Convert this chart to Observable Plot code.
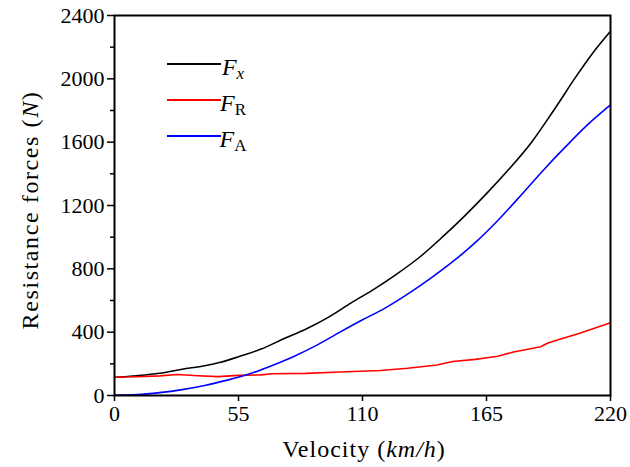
<!DOCTYPE html>
<html><head><meta charset="utf-8">
<script src="https://cdn.jsdelivr.net/npm/d3@7"></script>
<script src="https://cdn.jsdelivr.net/npm/@observablehq/plot@0.6"></script>
<style>
body{margin:0;background:#fff;}
#wrap{width:630px;height:467px;}
#wrap svg, #wrap svg text, #wrap svg tspan { font-family: "Liberation Serif", "Times New Roman", serif !important; }
</style></head><body><div id="wrap"></div>
<script>
// ---- data ----
const velocityFx = [0, 10, 20, 30, 40, 47, 55, 65, 75, 85, 95, 105, 115, 125, 135, 145, 155, 165, 175, 185, 195, 205, 212, 220];
const forceFx    = [115, 125, 140, 166, 188, 210, 245, 293, 358, 420, 495, 585, 670, 765, 870, 995, 1130, 1275, 1430, 1600, 1805, 2020, 2160, 2300];

const velocityFR = [0, 10, 20, 28, 37, 46, 55, 65, 70, 85, 100, 118, 130, 143, 150, 160, 166, 170, 177, 189, 192, 195, 206, 220];
const forceFR    = [115, 118, 124, 133, 125, 119, 127, 130, 137, 140, 148, 158, 172, 193, 215, 228, 240, 248, 275, 308, 330, 344, 392, 460];

const velocityFA = [0, 10, 20, 30, 40, 50, 60, 70, 80, 90, 100, 110, 120, 130, 140, 150, 160, 170, 180, 190, 200, 210, 220];
const forceFA    = [3, 6, 18, 37, 63, 97, 137, 190, 250, 320, 400, 478, 552, 640, 738, 845, 965, 1105, 1260, 1420, 1570, 1712, 1835];

const seriesNames  = ["Fx", "FR", "FA"];
const seriesColors = ["#000000", "#ff0000", "#0000ff"];
const legendMain   = ["F", "F", "F"];
const legendSub    = ["x", "R", "A"];
const legendSubItalic = [true, false, false];

const xTicks = [0, 55, 110, 165, 220];
const yTicks = [0, 400, 800, 1200, 1600, 2000, 2400];
const yMinorTicks = [200, 600, 1000, 1400, 1800, 2200];

const xLabel = ["Velocity ", "(", "km/h", ")"];
const yLabel = ["Resistance forces ", "(", "N", ")"];

// ---- build table ----
const rows = [];
velocityFx.forEach((v, i) => rows.push({series: "Fx", v, f: forceFx[i]}));
velocityFR.forEach((v, i) => rows.push({series: "FR", v, f: forceFR[i]}));
velocityFA.forEach((v, i) => rows.push({series: "FA", v, f: forceFA[i]}));

const font = "Liberation Serif";

const chart = Plot.plot({
  width: 630,
  height: 467,
  marginLeft: 114,
  marginRight: 20,
  marginTop: 15,
  marginBottom: 72,
  style: {fontFamily: font, fontSize: "22px", color: "#000", background: "#fff"},
  x: {domain: [0, 220]},
  y: {domain: [0, 2400]},
  color: {domain: seriesNames, range: seriesColors},
  marks: [
    Plot.axisX({ticks: xTicks, tickSize: 6, tickPadding: 4, label: null, tickFormat: d => String(d), strokeWidth: 1.5, fontSize: 22}),
    Plot.axisY({ticks: yTicks, tickSize: 7, tickPadding: 3, label: null, tickFormat: d => String(d), strokeWidth: 1.5, fontSize: 22}),
    Plot.axisY({ticks: yMinorTicks, tickSize: 4, text: null, label: null, strokeWidth: 1.5}),
    Plot.line(rows.filter(d => d.series === "Fx"), {x: "v", y: "f", stroke: "series", strokeWidth: 1.6, curve: "monotone-x"}),
    Plot.line(rows.filter(d => d.series === "FR"), {x: "v", y: "f", stroke: "series", strokeWidth: 1.6}),
    Plot.line(rows.filter(d => d.series === "FA"), {x: "v", y: "f", stroke: "series", strokeWidth: 1.6, curve: "monotone-x"}),
    Plot.frame({stroke: "#000", strokeWidth: 2})
  ]
});

document.getElementById("wrap").appendChild(chart);

// ---- axis labels with mixed italics ----
const svg = d3.select(chart);
function richText(g, parts, italicIdx) {
  parts.forEach((p, i) => {
    g.append("tspan").attr("font-style", i === italicIdx ? "italic" : "normal").text(p);
  });
}
const xl = svg.append("text")
  .attr("x", 364).attr("y", 457)
  .attr("text-anchor", "middle")
  .attr("font-size", 24).attr("letter-spacing", "1px").attr("fill", "#000")
  .attr("xml:space", "preserve");
richText(xl, xLabel, 2);

const yl = svg.append("text")
  .attr("transform", "translate(38,210) rotate(-90)")
  .attr("text-anchor", "middle")
  .attr("font-size", 24).attr("letter-spacing", "1.6px").attr("fill", "#000")
  .attr("xml:space", "preserve");
richText(yl, yLabel, 2);

// ---- legend ----
const lg = svg.append("g");
seriesNames.forEach((name, i) => {
  const yy = 64 + i * 36;
  lg.append("line").attr("x1", 167).attr("x2", 221).attr("y1", yy).attr("y2", yy)
    .attr("stroke", seriesColors[i]).attr("stroke-width", 1.8);
  const t = lg.append("text").attr("x", 233).attr("y", yy + 11)
    .attr("font-size", 24).attr("fill", "#000");
  t.append("tspan").attr("font-style", "italic").text(legendMain[i]);
  t.append("tspan").attr("font-style", legendSubItalic[i] ? "italic" : "normal")
    .attr("font-size", 17).attr("dy", 4).text(legendSub[i]);
});
</script>
</body></html>
